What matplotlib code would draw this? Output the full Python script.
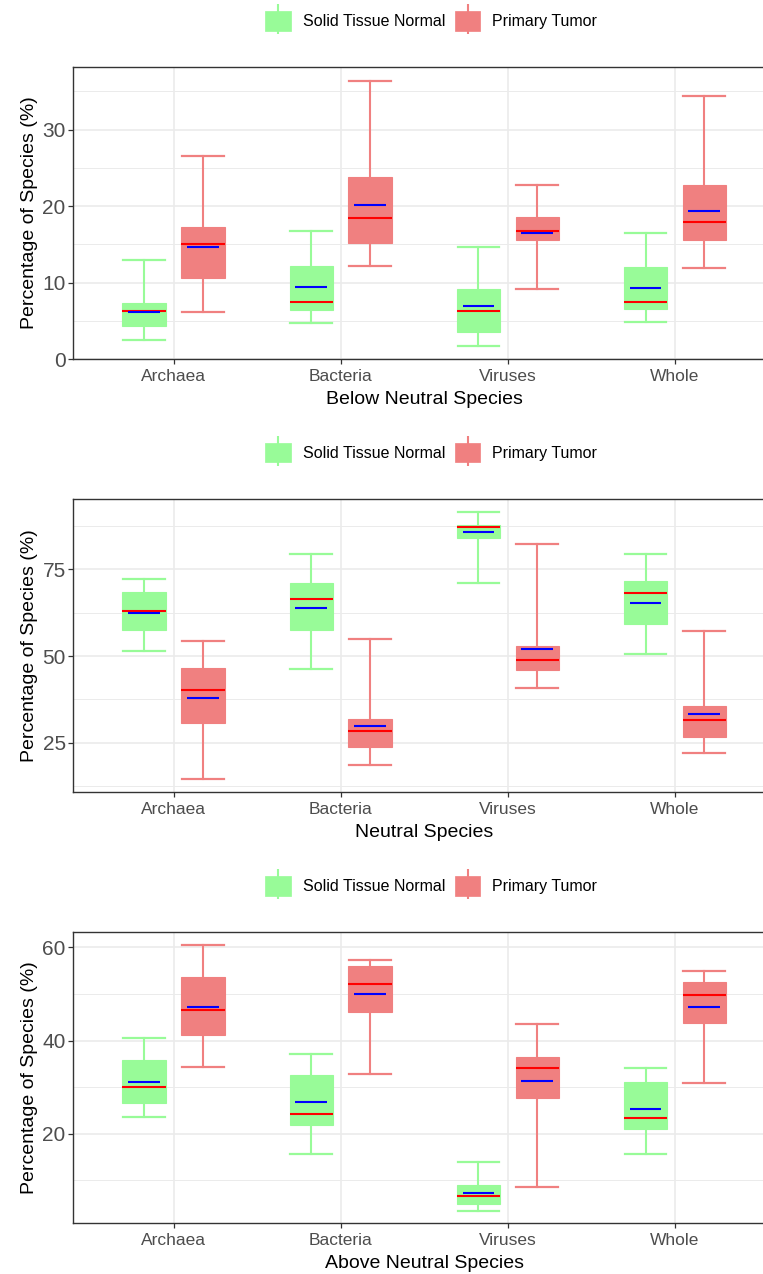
import matplotlib.pyplot as plt
from matplotlib.lines import Line2D
from matplotlib.patches import Patch

plt.rcParams['font.family'] = ['Liberation Sans', 'DejaVu Sans']

categories = ["Archaea", "Bacteria", "Viruses", "Whole"]
groups = ["Solid Tissue Normal", "Primary Tumor"]

# each row: whisker low, q1, median, q3, whisker high, mean
below_normal = [(2.5, 4.3, 6.3, 7.3, 12.9, 6.1),
                (4.7, 6.4, 7.5, 12.2, 16.7, 9.4),
                (1.7, 3.5, 6.3, 9.1, 14.6, 7.0),
                (4.9, 6.6, 7.4, 12.0, 16.5, 9.3)]
below_tumor = [(6.2, 10.6, 15.0, 17.3, 26.5, 14.6),
               (12.2, 15.2, 18.5, 23.8, 36.4, 20.1),
               (9.2, 15.6, 16.8, 18.6, 22.8, 16.5),
               (11.9, 15.6, 17.9, 22.7, 34.4, 19.4)]

neutral_normal = [(51.5, 57.4, 62.9, 68.6, 72.2, 62.4),
                  (46.4, 57.4, 66.5, 71.0, 79.3, 63.8),
                  (71.2, 84.2, 87.1, 87.8, 91.7, 85.7),
                  (50.7, 59.2, 68.1, 71.6, 79.4, 65.2)]
neutral_tumor = [(14.6, 30.8, 40.2, 46.5, 54.2, 37.9),
                 (18.5, 23.8, 28.4, 31.9, 54.9, 29.8),
                 (40.9, 46.0, 48.8, 53.0, 82.3, 52.1),
                 (22.1, 26.6, 31.6, 35.5, 57.2, 33.3)]

above_normal = [(23.5, 26.5, 30.0, 35.9, 40.6, 31.1),
                (15.7, 21.9, 24.3, 32.7, 37.1, 26.7),
                (3.4, 4.9, 6.7, 8.9, 14.0, 7.3),
                (15.6, 21.1, 23.3, 31.2, 34.0, 25.4)]
above_tumor = [(34.3, 41.1, 46.6, 53.6, 60.6, 47.2),
               (32.9, 46.1, 52.1, 56.1, 57.4, 49.9),
               (8.5, 27.7, 34.1, 36.4, 43.6, 31.3),
               (30.9, 43.8, 49.8, 52.6, 54.9, 47.2)]

panel_xlabels = ["Below Neutral Species", "Neutral Species", "Above Neutral Species"]
panel_ylims = [(0, 38.2), (10.8, 95.3), (0.8, 63.3)]
panel_major = [[0, 10, 20, 30], [25, 50, 75], [20, 40, 60]]
panel_minor = [[5, 15, 25, 35], [12.5, 37.5, 62.5, 87.5], [10, 30, 50]]

GREEN = "#98FB98"
RED = "#F08080"
GRID = "#EBEBEB"


def make_stats(rows):
    return [dict(whislo=r[0], q1=r[1], med=r[2], q3=r[3], whishi=r[4],
                 mean=r[5], fliers=[]) for r in rows]


def draw_group(ax, rows, offset, color):
    pos = [i + 1 + offset for i in range(len(rows))]
    ax.bxp(make_stats(rows), positions=pos, widths=0.26, capwidths=0.25,
           patch_artist=True, showmeans=False, showfliers=False,
           manage_ticks=False,
           boxprops=dict(facecolor=color, edgecolor=color, linewidth=0.8),
           whiskerprops=dict(color=color, linewidth=1.5),
           capprops=dict(color=color, linewidth=1.6),
           medianprops=dict(color="red", linewidth=1.5))
    means = [r[5] for r in rows]
    ax.hlines(means, [p - 0.095 for p in pos], [p + 0.095 for p in pos],
              colors="blue", linewidth=1.5, zorder=5)


def draw_panel(ax, normal, tumor, xlabel, ylim, majors, minors):
    ax.set_axisbelow(True)
    draw_group(ax, normal, -0.176, GREEN)
    draw_group(ax, tumor, 0.176, RED)
    ax.set_xlim(0.4, 4.6)
    ax.set_ylim(*ylim)
    ax.set_xticks(range(1, len(categories) + 1))
    ax.set_xticklabels(categories)
    ax.set_yticks(majors)
    ax.set_yticks(minors, minor=True)
    ax.grid(which="major", color=GRID, linewidth=1.2)
    ax.grid(which="minor", axis="y", color=GRID, linewidth=0.7)
    ax.tick_params(which="minor", length=0)
    ax.tick_params(axis="y", labelsize=15, labelcolor="#4D4D4D",
                   color="#333333", length=3.5, width=0.9, pad=2)
    ax.tick_params(axis="x", labelsize=12.5, labelcolor="#4D4D4D",
                   color="#333333", length=3.5, width=0.9, pad=3.5)
    for s in ax.spines.values():
        s.set_color("#333333")
        s.set_linewidth(1.0)
    ax.set_xlabel(xlabel, fontsize=14, labelpad=5)
    ax.set_ylabel("Percentage of Species (%)", fontsize=14, labelpad=3)

    handles = []
    for color in [GREEN, RED]:
        vline = Line2D([], [], linestyle="none", marker="|", markersize=21,
                       markeredgewidth=1.5, color=color)
        box = Patch(facecolor=color, edgecolor=color, linewidth=0.5)
        handles.append((vline, box))
    ax.legend(handles, groups, loc="center", bbox_to_anchor=(0.51, 1.158),
              ncol=2, frameon=False, fontsize=11.5, handlelength=1.6,
              handleheight=1.5, handletextpad=0.75, columnspacing=0.6)


fig = plt.figure(figsize=(7.63, 12.74), dpi=100)
bottoms = [0.7182, 0.3784, 0.04]
heights = [0.2292, 0.2299, 0.2284]
data = [(below_normal, below_tumor), (neutral_normal, neutral_tumor),
        (above_normal, above_tumor)]

for k in range(3):
    ax = fig.add_axes([0.0961, bottoms[k], 1.016 - 0.0961, heights[k]])
    draw_panel(ax, data[k][0], data[k][1], panel_xlabels[k], panel_ylims[k],
               panel_major[k], panel_minor[k])

fig.savefig("out.png", dpi=100)
